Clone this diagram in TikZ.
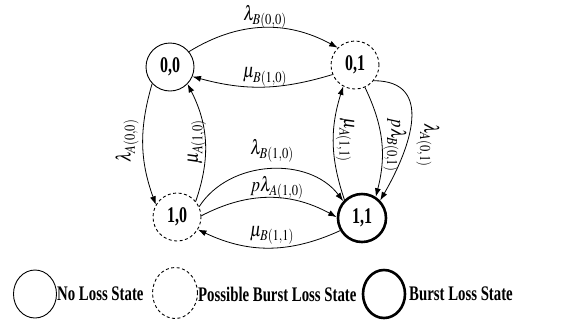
\documentclass[tikz,border=0pt]{standalone}
\usepackage{mathptmx}
\usepackage{fontspec}
\setmainfont{Liberation Serif}
\usepackage{graphicx}
\usetikzlibrary{arrows.meta,shapes.geometric}
\newcommand{\st}[1]{\scalebox{1}[1.4]{#1}}
\newcommand{\sm}[1]{\scalebox{1}[1.2]{$#1$}}
\begin{document}
\begin{tikzpicture}[x=1pt,y=-1pt,
 state/.style={circle,draw,minimum size=48pt,inner sep=0pt,line width=0.9pt,font=\fontsize{16}{18}\selectfont\bfseries},
 possible/.style={dash pattern=on 3pt off 2.5pt},
 burst/.style={line width=2.6pt},
 legshape/.style={ellipse,draw,inner sep=0pt,line width=0.9pt},
 legtext/.style={anchor=west,inner sep=0pt,font=\fontsize{14.8}{17}\selectfont\bfseries},
 arr/.style={-{Latex[length=8.5pt,width=6pt]},line width=0.8pt},
 lab/.style={inner sep=0pt,font=\fontsize{17}{19}\selectfont}]
\useasboundingbox (0,0) rectangle (577,322);
% states
\node[state] (n00) at (170,67) {\st{0,0}};
\node[state,possible] (n01) at (355,65) {\st{0,1}};
\node[state,possible] (n10) at (177,217) {\st{1,0}};
\node[state,burst] (n11) at (362,218) {\st{1,1}};
% transitions
\draw[arr] (n00.39) to[bend left=30] (n01.135);
\draw[arr] (n01.203) to[bend left=16] (n00.337);
\draw[arr] (n00.223) to[bend right=18] (n10.150);
\draw[arr] (n10.40) to[bend right=23] (n00.316);
\draw[arr] (n10.25) to[bend left=55] (n11.138);
\draw[arr] (n10.3) to[bend left=28] (n11.178);
\draw[arr] (n11.210) to[bend left=25] (n10.329);
\draw[arr] (n11.134) to[bend left=18] (n01.241);
\draw[arr] (n01.294) to[bend left=20] (n11.57);
\draw[arr] (n01.320) to[out=0,in=60,looseness=1.3] (n11.44);
% labels
\node[lab] (la) at (265,17) {\sm{\lambda_{B(0,0)}}};
\node[lab] (lb) at (265,77) {\sm{\mu_{B(1,0)}}};
\node[lab,rotate=90] (lc) at (127,141) {\sm{\lambda_{A(0,0)}}};
\node[lab,rotate=90] (ld) at (197,142) {\sm{\mu_{A(1,0)}}};
\node[lab] (le) at (272,151) {\sm{\lambda_{B(1,0)}}};
\node[lab] (lf) at (277,188) {\sm{p\lambda_{A(1,0)}}};
\node[lab] (lg) at (272,235) {\sm{\mu_{B(1,1)}}};
\node[lab,rotate=-90] (lh) at (345,140) {\sm{\mu_{A(1,1)}}};
\node[lab,rotate=-90] (li) at (395,145) {\sm{p\lambda_{B(0,1)}}};
\node[lab,rotate=-90] (lj) at (428,145) {\sm{\lambda_{A(0,1)}}};
% legend
\node[legshape,minimum width=43pt,minimum height=48pt] (g1) at (35,294) {};
\node[legtext] (t1) at (57,294) {\st{No Loss State}};
\node[legshape,possible,minimum width=45pt,minimum height=51pt] (g2) at (175,293) {};
\node[legtext] (t2) at (198,294) {\st{Possible Burst Loss State}};
\node[legshape,burst,minimum width=42pt,minimum height=48pt] (g3) at (384,294) {};
\node[legtext] (t3) at (409,294) {\st{Burst Loss State}};
\end{tikzpicture}
\end{document}
